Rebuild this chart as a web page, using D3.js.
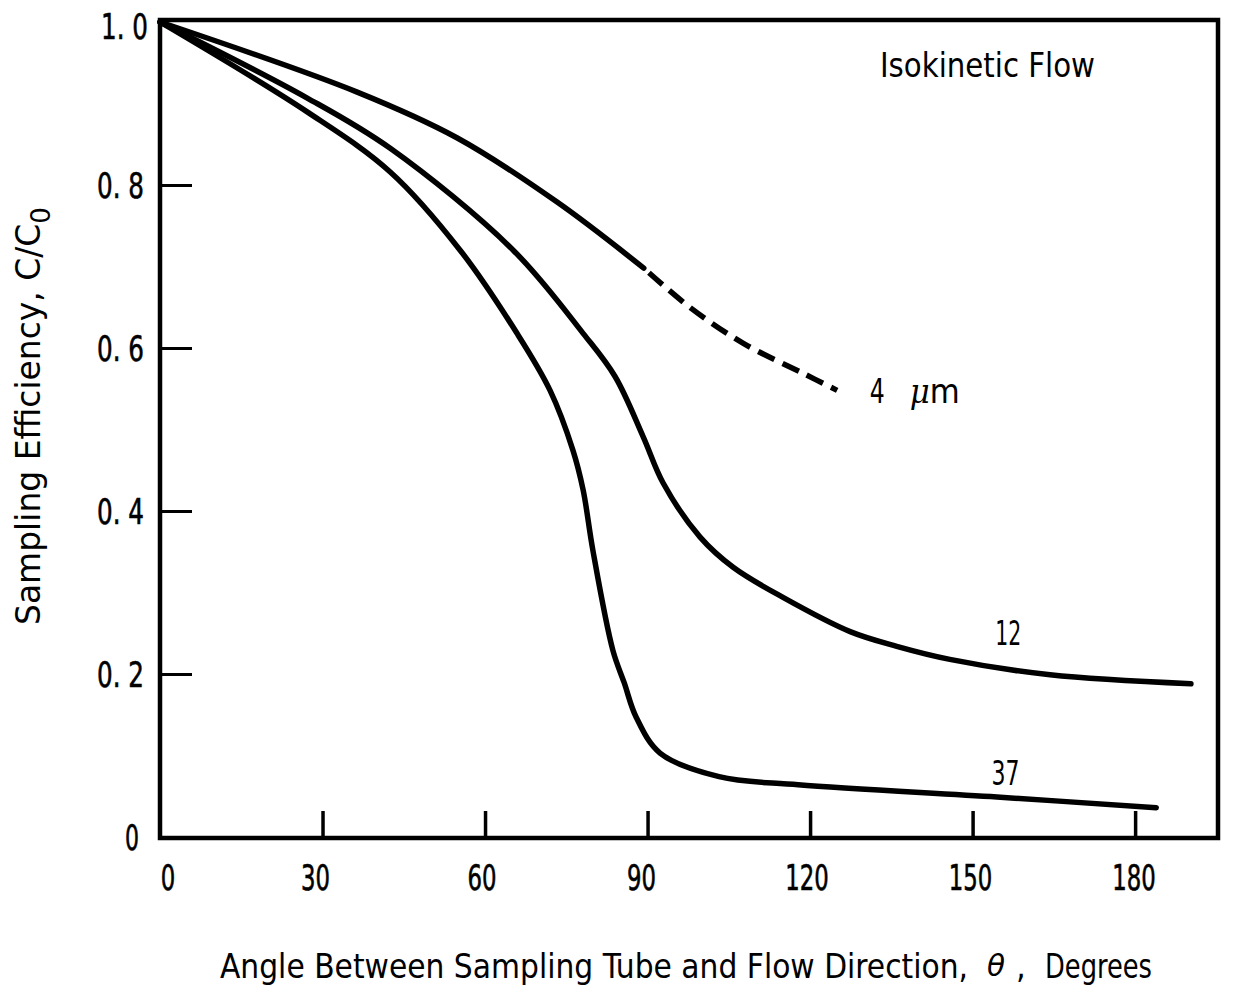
<!DOCTYPE html>
<html>
<head>
<meta charset="utf-8">
<script src="https://cdn.jsdelivr.net/npm/d3@7"></script>
<style>
  html, body { margin: 0; padding: 0; background: #fff; }
  svg text { font-family: "DejaVu Sans", "Liberation Sans", sans-serif; font-stretch: condensed; fill: #000; }
</style>
</head>
<body>
<svg id="chart" width="1234" height="989"></svg>
<script>
// ---- data ----
const xTicks = [0, 30, 60, 90, 120, 150, 180];
const xTickLabels = ["0", "30", "60", "90", "120", "150", "180"];
const yTicks = [0, 0.2, 0.4, 0.6, 0.8, 1.0];
const yTickLabels = ["0", "0. 2", "0. 4", "0. 6", "0. 8", "1. 0"];

// 4 um curve: solid part then dashed part
const d4SolidAngle = [0, 36.4, 54.8, 73.3, 89.3];
const d4SolidEff   = [1.0, 0.914, 0.858, 0.779, 0.698];
const d4DashAngle  = [89.3, 97.8, 107.6, 118.7, 125.0];
const d4DashEff    = [0.698, 0.650, 0.606, 0.569, 0.548];

// 12 um curve
const d12Angle = [0, 27.1, 42.5, 65.2, 78.1, 84.0, 89.2, 92.9, 99.7, 105.8, 115.0, 127.4, 136.0, 145.8, 164.3, 190.3];
const d12Eff   = [1.0, 0.907, 0.845, 0.720, 0.618, 0.565, 0.491, 0.434, 0.368, 0.331, 0.294, 0.252, 0.234, 0.218, 0.199, 0.188];

// 37 um curve
const d37Angle = [0, 27.1, 42.5, 55.4, 65.9, 72.0, 76.2, 78.1, 79.9, 83.6, 85.7, 87.9, 92.3, 103.2, 117.8, 154.5, 183.9];
const d37Eff   = [1.0, 0.890, 0.816, 0.720, 0.618, 0.548, 0.475, 0.426, 0.352, 0.229, 0.189, 0.147, 0.103, 0.074, 0.064, 0.049, 0.036];

const seriesLabelText  = ["4", "12", "37"];
const seriesLabelAngle = [131.0, 154.2, 153.5];
const seriesLabelEff   = [0.532, 0.235, 0.064];

// ---- layout ----
const svg = d3.select("#chart");
const frameL = 160, frameR = 1218, frameT = 20, frameB = 838;

const x = d3.scaleLinear().domain([0, 195.3]).range([frameL, frameR]);
const y = d3.scaleLinear().domain([0, 1]).range([837, 22]);

const zip = (a, b) => a.map((v, i) => [v, b[i]]);

// frame
svg.append("rect")
  .attr("x", frameL).attr("y", frameT)
  .attr("width", frameR - frameL).attr("height", frameB - frameT)
  .attr("fill", "none").attr("stroke", "#000").attr("stroke-width", 4.5);

// x ticks (inward, upward from bottom)
const xAxis = d3.axisBottom(x).tickValues(xTicks.slice(1)).tickSize(-27).tickFormat("");
const gx = svg.append("g").attr("transform", `translate(0,${frameB})`).call(xAxis);
gx.select(".domain").remove();
gx.selectAll(".tick line").attr("stroke", "#000").attr("stroke-width", 3.5);

const xLabelShift = [8, -7, -3, -6, -3, -2, -1];
svg.append("g").selectAll("text").data(xTicks).join("text")
  .each(function (d, i) {
    const w = xTickLabels[i].length * 14.5;
    d3.select(this)
      .attr("x", x(d) + xLabelShift[i] - w / 2)
      .attr("y", 890)
      .attr("font-size", 35)
      .attr("stroke", "#000").attr("stroke-width", 0.6)
      .attr("textLength", w).attr("lengthAdjust", "spacingAndGlyphs")
      .text(xTickLabels[i]);
  });

// y ticks (inward, rightward from left)
const yAxis = d3.axisLeft(y).tickValues(yTicks.slice(1, 5)).tickSize(-32).tickFormat("");
const gy = svg.append("g").attr("transform", `translate(${frameL},0)`).call(yAxis);
gy.select(".domain").remove();
gy.selectAll(".tick line").attr("stroke", "#000").attr("stroke-width", 3);

svg.append("g").selectAll("text").data(yTicks).join("text")
  .each(function (d, i) {
    const w = i === 0 ? 14 : 47;
    const rightEdge = i === 0 ? 139 : (i === 5 ? 148 : 144);
    d3.select(this)
      .attr("x", rightEdge - w)
      .attr("y", i === 5 ? 39 : y(d) + 13)
      .attr("font-size", 36)
      .attr("stroke", "#000").attr("stroke-width", 0.6)
      .attr("textLength", w).attr("lengthAdjust", "spacingAndGlyphs")
      .text(yTickLabels[i]);
  });

// curves
const line = d3.line().x(d => x(d[0])).y(d => y(d[1])).curve(d3.curveCatmullRom.alpha(0.5));
const curveStyle = sel => sel.attr("fill", "none").attr("stroke", "#000")
  .attr("stroke-width", 5.5).attr("stroke-linecap", "round").attr("stroke-linejoin", "round");

svg.append("path").datum(zip(d4SolidAngle, d4SolidEff)).attr("d", line).call(curveStyle);
svg.append("path").datum(zip(d4DashAngle, d4DashEff)).attr("d", line).call(curveStyle)
  .attr("stroke-dasharray", "18,9").attr("stroke-dashoffset", 20).attr("stroke-linecap", "butt");
svg.append("path").datum(zip(d12Angle, d12Eff)).attr("d", line).call(curveStyle);
svg.append("path").datum(zip(d37Angle, d37Eff)).attr("d", line).call(curveStyle);

// curve labels
svg.append("text").attr("x", x(seriesLabelAngle[0])).attr("y", y(seriesLabelEff[0]))
  .attr("font-size", 34).attr("textLength", 15).attr("lengthAdjust", "spacingAndGlyphs")
  .text(seriesLabelText[0]);
const mu = svg.append("text").attr("x", x(seriesLabelAngle[0]) + 40).attr("y", y(seriesLabelEff[0]))
  .attr("font-size", 34).attr("textLength", 50).attr("lengthAdjust", "spacingAndGlyphs");
mu.append("tspan").attr("font-style", "italic").attr("font-family", "DejaVu Serif, serif").text("μ");
mu.append("tspan").text("m");

svg.append("text").attr("x", x(seriesLabelAngle[1])).attr("y", y(seriesLabelEff[1]))
  .attr("font-size", 34).attr("textLength", 26).attr("lengthAdjust", "spacingAndGlyphs")
  .text(seriesLabelText[1]);
svg.append("text").attr("x", x(seriesLabelAngle[2])).attr("y", y(seriesLabelEff[2]))
  .attr("font-size", 34).attr("textLength", 28).attr("lengthAdjust", "spacingAndGlyphs")
  .text(seriesLabelText[2]);

// annotation
svg.append("text").attr("x", 880).attr("y", 77)
  .attr("font-size", 34).attr("textLength", 215).attr("lengthAdjust", "spacingAndGlyphs")
  .text("Isokinetic Flow");

// x axis title (pieces placed as in the reference)
svg.append("text").attr("x", 220).attr("y", 978).attr("font-size", 34)
  .attr("textLength", 748).attr("lengthAdjust", "spacingAndGlyphs")
  .text("Angle Between  Sampling Tube and Flow Direction,");
svg.append("text").attr("x", 987).attr("y", 976).attr("font-size", 30)
  .attr("font-style", "italic").attr("font-family", "DejaVu Serif, serif")
  .attr("textLength", 18).attr("lengthAdjust", "spacingAndGlyphs")
  .text("θ");
svg.append("text").attr("x", 1016).attr("y", 978).attr("font-size", 34).text(",");
svg.append("text").attr("x", 1045).attr("y", 978).attr("font-size", 34)
  .attr("textLength", 107).attr("lengthAdjust", "spacingAndGlyphs")
  .text("Degrees");

// y axis title
const yt = svg.append("text").attr("transform", "translate(40,625) rotate(-90)")
  .attr("font-size", 34).attr("textLength", 418).attr("lengthAdjust", "spacingAndGlyphs");
yt.append("tspan").text("Sampling Efficiency,  C/C");
yt.append("tspan").attr("font-size", 27).attr("dy", 10).text("0");
</script>
</body>
</html>
